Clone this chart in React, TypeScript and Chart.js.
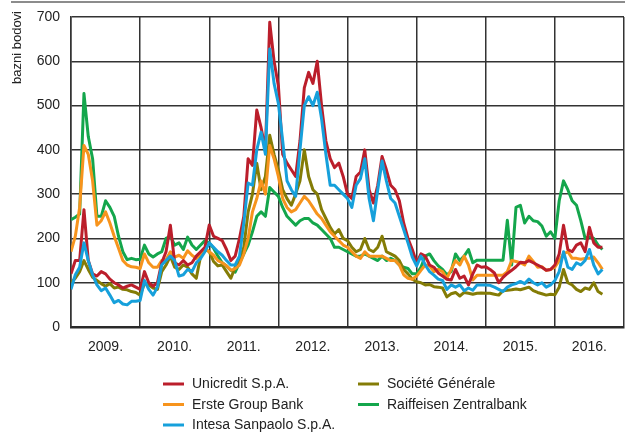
import React, { useEffect, useRef } from "react";
import { Chart, registerables } from "chart.js";

Chart.register(...registerables);

// Time axis: one observation every 1/16 of a year starting January 2009
const START_YEAR = 2009;
const STEPS_PER_YEAR = 16;

const YEAR_TICKS = [2009, 2010, 2011, 2012, 2013, 2014, 2015, 2016, 2017];
const Y_TICKS = [0, 100, 200, 300, 400, 500, 600, 700];

const unicredit = [
  120, 150, 150, 265, 150, 120, 115, 125, 120, 108, 100, 95, 88, 92, 95, 90, 85,
  125, 100, 92, 100, 145, 170, 230, 145, 140, 150, 140, 145, 160, 170, 180, 230,
  205, 200, 195, 175, 150, 160, 200, 250, 380, 365, 490, 450, 400, 688, 600, 545,
  390, 370, 355, 340, 420, 540, 575, 550, 600, 500, 420, 380, 360, 370, 340, 300,
  290, 340, 350, 400, 310, 280, 320, 385, 355, 320, 310, 285, 235, 200, 175, 145,
  165, 160, 140, 135, 122, 115, 108, 106, 130, 110, 115, 95, 120, 140, 135,
  136, 130, 122, 100, 112, 121, 128, 136, 146, 145, 150, 145, 140, 135, 128, 130, 140, 165, 230, 175, 170, 185, 190, 170, 225, 190, 180, 180,
];

const erste = [
  170, 205, 270, 410, 390, 330, 230, 240, 260, 235, 205, 178, 150, 140, 136, 135, 132,
  165, 145, 135, 135, 150, 152, 170, 158, 162, 155, 172, 162, 155, 165, 178, 170,
  162, 150, 145, 138, 128, 132, 140, 165, 200, 260, 290, 330, 300, 410, 380, 340,
  290, 270, 260, 265, 280, 295, 285, 270, 255, 245, 230, 215, 205, 195, 185, 180,
  170, 160, 155, 170, 160, 160, 160, 160, 155, 150, 150, 140, 118, 110, 108, 115,
  128, 140, 138, 125, 130, 125, 110, 130, 150, 140, 160, 140, 106, 117, 117,
  117, 117, 117, 117, 117, 125, 150, 148, 145, 140, 160, 148, 135, 136, 128, 130, 135, 150, 165, 170, 155, 155, 153, 155, 155, 158, 145, 130,
];

const intesa = [
  85, 118, 135, 190, 150, 118, 95, 82, 88, 72, 55, 60, 52, 50, 58, 58, 60,
  105, 85, 72, 90, 140, 150, 160, 150, 115, 118, 130, 125, 145, 155, 170, 190,
  180, 170, 162, 150, 140, 140, 160, 235, 325, 320, 400, 440, 390, 628, 550, 505,
  420, 330, 310, 295, 400, 500, 520, 500, 530, 470, 390, 320, 320, 310, 300, 290,
  270, 320, 335, 380, 290, 240, 310, 375, 330, 290, 280, 250, 220, 190, 158, 138,
  160, 140, 125, 117, 108, 105, 85, 95, 90, 95, 82, 88, 83, 95, 95,
  95, 94, 90, 85, 80, 90, 95, 98, 103, 98, 108, 100, 95, 100, 90, 95, 105, 125, 170, 135, 130, 145, 140, 150, 175, 140, 120, 130,
];

const societe = [
  100, 110, 125, 150, 130, 112, 105, 98, 92, 98, 88, 90, 85, 84, 80, 78, 72,
  98, 95, 88, 85, 125, 140, 160, 135, 130, 140, 135, 120, 110, 160, 175, 170,
  148, 138, 140, 125, 110, 135, 150, 180, 260, 300, 370, 310, 340, 433, 390, 355,
  310, 290, 275, 300, 330, 400, 340, 310, 300, 265, 245, 225, 210, 220, 200, 195,
  180, 170, 175, 200, 175, 170, 180, 205, 170, 165, 160, 150, 130, 120, 108, 102,
  100, 95, 96, 91, 90, 88, 68, 75, 78, 70, 78, 76, 74, 76, 77,
  76, 76, 74, 72, 82, 83, 84, 86, 84, 87, 90, 82, 78, 75, 72, 74, 73, 90, 130, 100, 95, 85, 80, 88, 85, 100, 80, 74,
];

const raiffeisen = [
  242, 248, 255, 527, 430, 380, 250, 250, 285, 270, 250, 205, 170, 152, 155, 152, 153,
  185, 165, 158, 165, 170, 200, 205, 185, 190, 175, 203, 185, 175, 185, 195, 190,
  178, 160, 145, 138, 128, 124, 145, 165, 185, 215, 250, 260, 250, 315, 305, 295,
  270, 250, 240, 230, 240, 245, 245, 235, 230, 220, 210, 200, 180, 180, 175, 170,
  165, 160, 160, 165, 160, 155, 150, 160, 150, 155, 150, 140, 135, 132, 120, 120,
  135, 160, 165, 150, 138, 130, 118, 125, 165, 150, 160, 175, 145, 151, 151,
  151, 151, 151, 151, 151, 241, 140, 270, 275, 235, 250, 240, 238, 228, 205, 215, 200, 285, 330, 310, 285, 275, 240, 200, 204, 200, 185, 175,
];

const SERIES = [
  { label: "Unicredit S.p.A.", values: unicredit, color: "#BB1E2B", order: 1 },
  { label: "Erste Group Bank", values: erste, color: "#F7941D", order: 2 },
  { label: "Intesa Sanpaolo S.p.A.", values: intesa, color: "#16A0DB", order: 0 },
  { label: "Société Générale", values: societe, color: "#847C06", order: 3 },
  { label: "Raiffeisen Zentralbank", values: raiffeisen, color: "#14A64C", order: 4 },
];

const FONT = "'Liberation Sans', Arial, 'Helvetica Neue', sans-serif";

const extrasPlugin = {
  id: "extras",
  afterDraw(chart: any) {
    const ctx = chart.ctx as CanvasRenderingContext2D;
    ctx.save();
    // top rule
    ctx.strokeStyle = "#666";
    ctx.lineWidth = 1.5;
    ctx.beginPath();
    ctx.moveTo(11, 2);
    ctx.lineTo(625, 2);
    ctx.stroke();
    // y axis title
    ctx.fillStyle = "#222";
    ctx.font = `13px ${FONT}`;
    ctx.translate(17.5, 47.5);
    ctx.rotate(-Math.PI / 2);
    ctx.textAlign = "center";
    ctx.textBaseline = "middle";
    ctx.fillText("bazni bodovi", 0, 0);
    ctx.restore();

    // legend (two columns, column-major)
    ctx.save();
    ctx.font = `14px ${FONT}`;
    ctx.textBaseline = "middle";
    ctx.textAlign = "left";
    const cols = [163, 358];
    const rows = [384, 404.5, 425];
    const placement = [
      [0, 0],
      [0, 1],
      [0, 2],
      [1, 0],
      [1, 1],
    ];
    SERIES.forEach((s, i) => {
      const [c, r] = placement[i];
      const x = cols[c];
      const y = rows[r];
      ctx.strokeStyle = s.color;
      ctx.lineWidth = 3;
      ctx.beginPath();
      ctx.moveTo(x, y);
      ctx.lineTo(x + 21, y);
      ctx.stroke();
      ctx.fillStyle = "#222";
      ctx.fillText(s.label, x + 29, y + 0.5);
    });
    ctx.restore();
  },
};

export default function App() {
  const canvasRef = useRef<HTMLCanvasElement | null>(null);

  useEffect(() => {
    if (!canvasRef.current) return;
    const times = unicredit.map((_, i) => START_YEAR + i / STEPS_PER_YEAR);
    const chart = new Chart(canvasRef.current, {
      type: "line",
      data: {
        datasets: SERIES.map((s) => ({
          label: s.label,
          data: s.values.map((v, i) => ({ x: times[i], y: v })),
          borderColor: s.color,
          backgroundColor: s.color,
          borderWidth: 3,
          pointRadius: 0,
          tension: 0,
          fill: false,
          order: s.order,
          borderJoinStyle: "round" as const,
        })),
      },
      options: {
        responsive: false,
        animation: false,
        devicePixelRatio: 1,
        layout: { padding: { left: 0, right: 1, top: 17, bottom: 0 } },
        plugins: {
          legend: { display: false },
          tooltip: { enabled: false },
        },
        scales: {
          x: {
            type: "linear",
            min: YEAR_TICKS[0],
            max: YEAR_TICKS[YEAR_TICKS.length - 1],
            afterBuildTicks: (scale: any) => {
              scale.ticks = YEAR_TICKS.map((v) => ({ value: v }));
            },
            afterFit: (scale: any) => {
              scale.height = 109;
              scale.paddingLeft = 0;
              scale.paddingRight = 0;
            },
            grid: { color: "#333", lineWidth: 1.5, drawTicks: false },
            border: { color: "#2a2a2a", width: 2.5 },
            ticks: {
              autoSkip: false,
              maxRotation: 0,
              padding: 12,
              labelOffset: 34.5,
              color: "#222",
              font: { family: FONT, size: 14 },
              callback: (v: any) => (v < YEAR_TICKS[YEAR_TICKS.length - 1] ? `${v}.` : ""),
            },
          },
          y: {
            min: 0,
            max: 700,
            afterBuildTicks: (scale: any) => {
              scale.ticks = Y_TICKS.map((v) => ({ value: v }));
            },
            afterFit: (scale: any) => {
              scale.width = 71;
              scale.paddingTop = 0;
              scale.paddingBottom = 0;
            },
            grid: { color: "#333", lineWidth: 1.5, drawTicks: false },
            border: { color: "#333", width: 1.5 },
            ticks: {
              padding: 11,
              color: "#222",
              font: { family: FONT, size: 14 },
            },
          },
        },
      },
      plugins: [extrasPlugin],
    });
    return () => chart.destroy();
  }, []);

  return (
    <div style={{ position: "fixed", left: 0, top: 0, width: 625, height: 436, background: "#fff" }}>
      <canvas ref={canvasRef} width={625} height={436} style={{ display: "block" }} />
    </div>
  );
}
